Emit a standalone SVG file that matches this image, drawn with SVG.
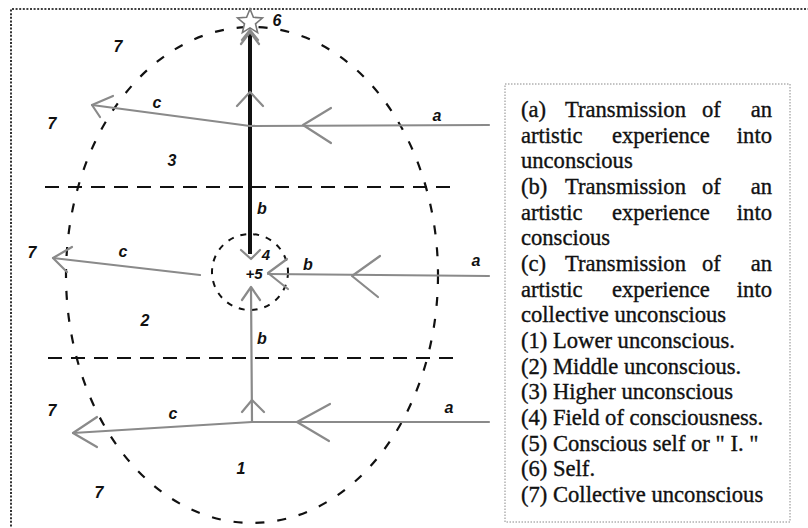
<svg xmlns="http://www.w3.org/2000/svg" width="808" height="528" viewBox="0 0 808 528">
<style>
.frame{fill:none;stroke:#000;stroke-width:1.6;stroke-dasharray:2 1.6}
.dash{fill:none;stroke:#111;stroke-width:2.2;stroke-dasharray:14 9}
.edash{fill:none;stroke:#111;stroke-width:2.2;stroke-dasharray:9 13}
.cdash{fill:none;stroke:#111;stroke-width:2;stroke-dasharray:6 7}
.g{fill:none;stroke:#8a8a8a;stroke-width:2.2;stroke-linecap:round;stroke-linejoin:round}
.k{fill:none;stroke:#111;stroke-width:4}
.lbl{font-family:"Liberation Sans",Arial,sans-serif;font-style:italic;font-weight:bold;font-size:16px;fill:#111;text-anchor:middle}
.leg{font-family:"Liberation Serif","Times New Roman",serif;font-size:22.6px;fill:#111;stroke:#111;stroke-width:0.35}
.box{fill:#fff;stroke:#888;stroke-width:1;stroke-dasharray:1.5 1.5}
</style>
<rect x="0" y="0" width="808" height="528" fill="#fff"/>
<path class="frame" d="M11,530 L11,9 L810,9"/>

<g id="regions">
<ellipse id="psyche" class="edash" cx="252" cy="275" rx="186" ry="248"/>
<line id="boundary-upper" class="dash" x1="45" y1="187" x2="454" y2="187"/>
<line id="boundary-lower" class="dash" x1="48" y1="358" x2="456" y2="358"/>
</g>

<g id="field-4">
<circle class="cdash" cx="250" cy="272" r="38"/>
</g>

<g id="connectors">
<line class="k" x1="250" y1="34" x2="250" y2="254"/>
<polyline class="g" points="237,106 250,92 263,106"/>
<polyline class="g" points="241,44 250,32 259,44"/>
<polyline class="g" points="241,250 251,259 260,250"/>
<line class="g" x1="251" y1="288" x2="252" y2="422"/>
<polyline class="g" points="242,300 251,287 260,300"/>
<polyline class="g" points="242,412 252,400 264,412"/>
<line class="g" x1="489" y1="125" x2="250" y2="126"/>
<polyline class="g" points="331,108 303,125 331,143"/>
<line class="g" x1="250" y1="126" x2="92" y2="105"/>
<polyline class="g" points="113,96 92,105 100,117"/>
<line class="g" x1="489" y1="276" x2="268" y2="274"/>
<polyline class="g" points="380,256 352,276 378,297"/>
<polyline class="g" points="287,259 268,273 288,289"/>
<line class="g" x1="200" y1="275" x2="53" y2="258"/>
<polyline class="g" points="72,247 53,258 67,272"/>
<line class="g" x1="489" y1="422" x2="252" y2="422"/>
<polyline class="g" points="330,404 297,422 329,441"/>
<line class="g" x1="252" y1="422" x2="73" y2="433"/>
<polyline class="g" points="97,417 73,433 97,447"/>
</g>

<g id="self-6">
<polygon points="250,9 253.4,17.3 262.4,18 255.5,23.8 257.6,32.6 250,27.9 242.4,32.6 244.5,23.8 237.6,18 246.6,17.3" fill="#fff" stroke="#777" stroke-width="1.6"/>
<polyline class="g" points="242,40 250,30 258,40"/>
<text class="lbl" x="277" y="26">6</text>
</g>

<g id="labels">
<text class="lbl" x="118" y="52">7</text>
<text class="lbl" x="52" y="129">7</text>
<text class="lbl" x="157" y="108">c</text>
<text class="lbl" x="437" y="121">a</text>
<text class="lbl" x="172" y="166">3</text>
<text class="lbl" x="262" y="214">b</text>
<text class="lbl" x="32" y="258">7</text>
<text class="lbl" x="123" y="257">c</text>
<text class="lbl" x="266" y="260" style="font-size:15px">4</text>
<text class="lbl" x="254" y="279" style="font-size:15px">+5</text>
<text class="lbl" x="308" y="270">b</text>
<text class="lbl" x="476" y="266">a</text>
<text class="lbl" x="145" y="326">2</text>
<text class="lbl" x="262" y="344">b</text>
<text class="lbl" x="52" y="416">7</text>
<text class="lbl" x="173" y="419">c</text>
<text class="lbl" x="449" y="413">a</text>
<text class="lbl" x="241" y="474">1</text>
<text class="lbl" x="99" y="498">7</text>
</g>

<g id="legend">
<rect class="box" x="505" y="84" width="285" height="438"/>
<text class="leg" y="117"><tspan x="521">(a)</tspan><tspan x="565">Transmission</tspan><tspan x="702">of</tspan><tspan x="772" text-anchor="end">an</tspan></text>
<text class="leg" y="142.7"><tspan x="521">artistic</tspan><tspan x="612">experience</tspan><tspan x="772" text-anchor="end">into</tspan></text>
<text class="leg" x="521" y="168.3">unconscious</text>
<text class="leg" y="194"><tspan x="521">(b)</tspan><tspan x="565">Transmission</tspan><tspan x="702">of</tspan><tspan x="772" text-anchor="end">an</tspan></text>
<text class="leg" y="219.7"><tspan x="521">artistic</tspan><tspan x="612">experience</tspan><tspan x="772" text-anchor="end">into</tspan></text>
<text class="leg" x="521" y="245.3">conscious</text>
<text class="leg" y="271"><tspan x="521">(c)</tspan><tspan x="565">Transmission</tspan><tspan x="702">of</tspan><tspan x="772" text-anchor="end">an</tspan></text>
<text class="leg" y="296.7"><tspan x="521">artistic</tspan><tspan x="612">experience</tspan><tspan x="772" text-anchor="end">into</tspan></text>
<text class="leg" x="521" y="322.3">collective unconscious</text>
<text class="leg" x="521" y="348">(1) Lower unconscious.</text>
<text class="leg" x="521" y="373.7">(2) Middle unconscious.</text>
<text class="leg" x="521" y="399.3">(3) Higher unconscious</text>
<text class="leg" x="521" y="425">(4) Field of consciousness.</text>
<text class="leg" x="521" y="450.7">(5) Conscious self or " I. "</text>
<text class="leg" x="521" y="476.3">(6) Self.</text>
<text class="leg" x="521" y="502">(7) Collective unconscious</text>
</g>
</svg>
